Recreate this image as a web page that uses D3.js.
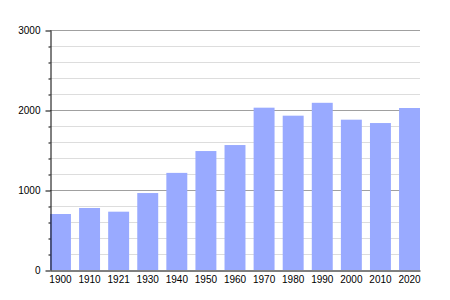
<!DOCTYPE html>
<html>
<head>
<meta charset="utf-8">
<script src="https://cdn.jsdelivr.net/npm/d3@7"></script>
<style>
  body { margin: 0; background: #fff; }
  text { font-family: "Liberation Sans", Arial, sans-serif; font-size: 10px; fill: #000; }
</style>
</head>
<body>
<div id="chart"></div>
<script>
// population by census year
const years = ["1900", "1910", "1921", "1930", "1940", "1950", "1960", "1970", "1980", "1990", "2000", "2010", "2020"];
const population = [700, 775, 729, 962, 1214, 1487, 1562, 2029, 1929, 2090, 1879, 1837, 2025];
const majorTicks = [0, 1000, 2000, 3000];
const minorTicks = d3.range(200, 3000, 200).filter(function(v) { return v % 1000 !== 0; });

const width = 450;
const height = 300;
const margin = { top: 30, bottom: 30, left: 50, right: 30 };
const innerW = width - margin.left - margin.right;
const innerH = height - margin.top - margin.bottom;

const svg = d3.select("#chart").append("svg")
    .attr("width", width)
    .attr("height", height)
    .append("g")
    .attr("transform", "translate(" + margin.left + "," + margin.top + ")");

const x = d3.scaleBand()
    .domain(years)
    .range([0, innerW])
    .paddingInner(0.28)
    .paddingOuter(0);

const y = d3.scaleLinear()
    .domain([0, 3000])
    .range([innerH, 0]);

// light grid every 200
svg.selectAll(".minor")
    .data(minorTicks)
    .enter().append("line")
    .attr("x1", 0)
    .attr("x2", innerW)
    .attr("y1", function(d) { return y(d) + 0.5; })
    .attr("y2", function(d) { return y(d) + 0.5; })
    .attr("stroke", "#dddddd");

// major grid every 1000
svg.selectAll(".major")
    .data(majorTicks.slice(1))
    .enter().append("line")
    .attr("x1", 0)
    .attr("x2", innerW)
    .attr("y1", function(d) { return y(d) + 0.5; })
    .attr("y2", function(d) { return y(d) + 0.5; })
    .attr("stroke", "#a0a0a0");

svg.selectAll(".bar")
    .data(years)
    .enter().append("rect")
    .attr("class", "bar")
    .attr("x", function(d) { return x(d); })
    .attr("y", function(d, i) { return y(population[i]); })
    .attr("width", x.bandwidth())
    .attr("height", function(d, i) { return innerH - y(population[i]); })
    .attr("fill", "#99aaff");

// y axis with long major ticks and short minor ticks
const yAxis = svg.append("g")
    .attr("transform", "translate(0.5,0)")
    .call(d3.axisLeft(y).tickValues(majorTicks).tickFormat(d3.format("d"))
        .tickSize(5).tickPadding(5).tickSizeOuter(0));
yAxis.selectAll("line").attr("stroke", "#000").attr("transform", "translate(0,0.5)");

svg.append("g")
    .attr("transform", "translate(0.5,0)")
    .call(d3.axisLeft(y).tickValues(minorTicks).tickSize(2).tickFormat("").tickSizeOuter(0))
    .call(function(g) { g.select(".domain").remove(); })
    .selectAll("line").attr("transform", "translate(0,0.5)");

const xAxis = svg.append("g")
    .attr("transform", "translate(0," + (innerH + 0.5) + ")")
    .call(d3.axisBottom(x).tickSize(0).tickPadding(5).tickSizeOuter(0));
xAxis.select(".domain").attr("stroke", "#000");

svg.selectAll(".tick text").style("font-size", "10px").attr("fill", "#000");
</script>
</body>
</html>
